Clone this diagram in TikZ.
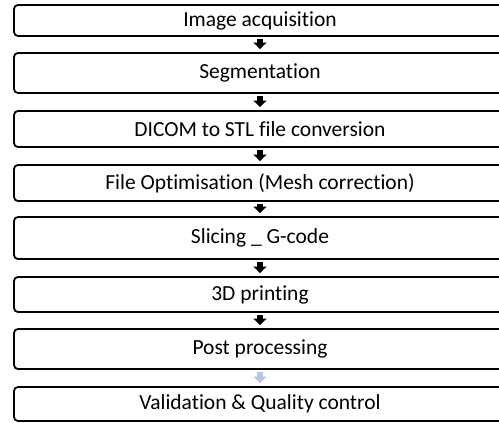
\documentclass[tikz,border=0pt]{standalone}
\usepackage{fontspec}
\setmainfont[RawFeature={-liga;-clig;-calt;-dlig}]{Carlito}
\usepackage{tikz}
\usetikzlibrary{arrows.meta}
\definecolor{paleblue}{RGB}{180,199,231}
\tikzset{
  stepbox/.style={rectangle, draw=black, line width=1.8pt,
    rounded corners=4pt, minimum width=492pt, inner sep=0pt,
    font=\fontsize{21.5}{24}\selectfont},
  flowarrow/.style={-{Triangle[width=13pt,length=6.5pt]}, line width=5.5pt,
    color=black, shorten <=2pt, shorten >=3pt},
  palearrow/.style={flowarrow, color=paleblue}
}

\begin{document}
\begin{tikzpicture}[x=1pt, y=-1pt]
  \useasboundingbox (0,0) rectangle (499,423);
  % Process steps, top to bottom
  \node[stepbox, minimum height=31pt] (acq)   at (260,20.5)  {Image acquisition};
  \node[stepbox, minimum height=40pt] (seg)   at (260,73)    {Segmentation};
  \node[stepbox, minimum height=36pt] (dicom) at (260,129)   {DICOM to STL file conversion};
  \node[stepbox, minimum height=36pt] (opt)   at (260,183)   {File Optimisation (Mesh correction)};
  \node[stepbox, minimum height=42pt] (slice) at (260,238)   {Slicing \_ G-code};
  \node[stepbox, minimum height=35pt] (print) at (260,294.5) {3D printing};
  \node[stepbox, minimum height=40pt] (post)  at (260,349)   {Post processing};
  \node[stepbox, minimum height=34pt] (valid) at (260,404)   {Validation \& Quality control};

  % Flow arrows
  \draw[flowarrow] (acq.south)   -- (seg.north);
  \draw[flowarrow] (seg.south)   -- (dicom.north);
  \draw[flowarrow] (dicom.south) -- (opt.north);
  \draw[flowarrow] (opt.south)   -- (slice.north);
  \draw[flowarrow] (slice.south) -- (print.north);
  \draw[flowarrow] (print.south) -- (post.north);
  \draw[palearrow] (post.south)  -- (valid.north);
\end{tikzpicture}
\end{document}
